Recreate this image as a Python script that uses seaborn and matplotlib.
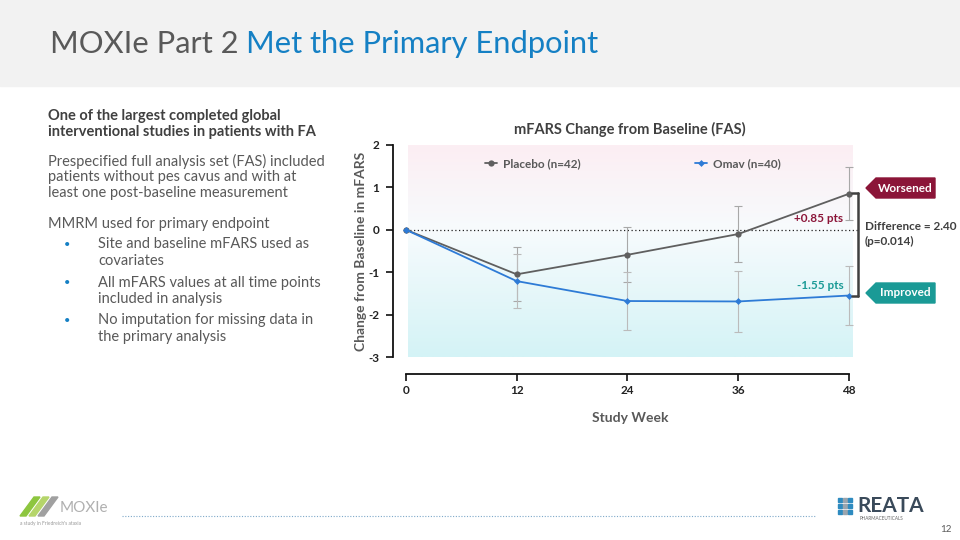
import numpy as np
import pandas as pd
import seaborn as sns
import matplotlib.pyplot as plt
from matplotlib.patches import Rectangle, Polygon
from matplotlib.lines import Line2D

# data
weeks = [0, 12, 24, 36, 48]
placebo = [0.0, -1.05, -0.59, -0.10, 0.85]
omav = [0.0, -1.21, -1.68, -1.69, -1.55]
placebo_se = [0.0, 0.64, 0.65, 0.65, 0.63]
omav_se = [0.0, 0.63, 0.69, 0.71, 0.69]
groups = ["Placebo (n=42)", "Omav (n=40)"]

df = pd.DataFrame({
    "week": weeks * 2,
    "change": placebo + omav,
    "group": [groups[0]] * 5 + [groups[1]] * 5,
})

sns.set_theme(style="white")
plt.rcParams["font.family"] = ["Lato", "DejaVu Sans"]

W, H = 960, 540
fig = plt.figure(figsize=(9.6, 5.4), dpi=100)


def fx(x):
    return x / W


def fy(y):
    return 1 - y / H


gray_txt = "#595959"
dark_txt = "#404040"
blue = "#2E7BD6"
pl_gray = "#5F5F5F"
maroon = "#8B1538"
teal = "#1A9A96"

# header band
fig.patches.append(Rectangle((0, fy(86)), 1, 86 / H, transform=fig.transFigure,
                             color="#F2F2F2", zorder=0))
t1 = fig.text(fx(50), fy(44), "MOXIe Part 2 ", fontsize=22.2, color=gray_txt, va="center")
r = fig.canvas.get_renderer()
x_end = t1.get_window_extent(renderer=r).x1
fig.text(x_end / W, fy(44), "Met the Primary Endpoint", fontsize=22.2,
         color="#1580C4", va="center")

# left text column
fs = 10.5
fig.text(fx(48), fy(116), "One of the largest completed global", fontsize=fs,
         weight="bold", color=dark_txt, va="center")
fig.text(fx(48), fy(132), "interventional studies in patients with FA", fontsize=fs,
         weight="bold", color=dark_txt, va="center")
lines = [
    (48, 161, "Prespecified full analysis set (FAS) included"),
    (48, 177, "patients without pes cavus and with at"),
    (48, 193, "least one post-baseline measurement"),
    (48, 224, "MMRM used for primary endpoint"),
    (98, 244, "Site and baseline mFARS used as"),
    (98, 261, "covariates"),
    (98, 283, "All mFARS values at all time points"),
    (98, 299, "included in analysis"),
    (98, 320, "No imputation for missing data in"),
    (98, 337, "the primary analysis"),
]
for x, y, t in lines:
    fig.text(fx(x), fy(y), t, fontsize=fs, color=gray_txt, va="center")
for y in [244, 283, 320]:
    fig.text(fx(64), fy(y), "\u2022", fontsize=8, color="#1580C4", va="center")

# chart
ax = fig.add_axes([fx(393), fy(357), fx(867.5) - fx(393), (357 - 145) / H])
for s in ["top", "right"]:
    ax.spines[s].set_visible(False)
ax.spines["bottom"].set_position(("outward", 12))
ax.spines["bottom"].set_bounds(0, 48)

# background gradient: pink above zero, cyan below
top = np.array([252, 238, 243]) / 255
mid = np.array([247, 251, 253]) / 255
bot = np.array([212, 243, 246]) / 255
yy = np.linspace(2, -3, 200)
rows = []
for v in yy:
    if v >= 0:
        t = v / 2
        rows.append(mid * (1 - t) + top * t)
    else:
        t = -v / 3
        rows.append(mid * (1 - t) + bot * t)
grad = np.array(rows)[:, None, :]
ax.imshow(grad, extent=(0.2, 48.4, -3, 2), aspect="auto", zorder=0)

ax.hlines(0, 0, 49, colors="#222222", linestyles=(0, (1, 2)), lw=0.9, zorder=1)

ax.errorbar(weeks[1:], placebo[1:], yerr=placebo_se[1:], fmt="none",
            ecolor="#A8A8A8", elinewidth=0.8, capsize=3, capthick=0.8, zorder=2)
ax.errorbar(weeks[1:], omav[1:], yerr=omav_se[1:], fmt="none",
            ecolor="#BBBBBB", elinewidth=0.8, capsize=3, capthick=0.8, zorder=2)

sns.lineplot(data=df, x="week", y="change", hue="group", style="group",
             palette=[pl_gray, blue], markers=["o", "D"], dashes=False,
             markersize=4.5, markeredgewidth=0, linewidth=1.3, ax=ax, zorder=3)
for ln in ax.get_lines():
    if ln.get_marker() == "D":
        ln.set_markersize(3.5)

ax.set_xlim(-1.4, 50)
ax.set_ylim(-3, 2)

leg = ax.legend(ncol=2, loc="upper center", bbox_to_anchor=(0.505, 0.99),
                frameon=False, columnspacing=9.7, handlelength=1.0,
                handletextpad=0.5, prop={"weight": "bold", "size": 8.5})
for t in leg.get_texts():
    t.set_color(gray_txt)
for h in leg.legend_handles:
    if h.get_marker() == "D":
        h.set_markersize(3.5)

ax.set_xticks(weeks)
ax.set_yticks([-3, -2, -1, 0, 1, 2])
ax.set_xticklabels([str(w) for w in weeks], fontsize=8.5, weight="bold", color="#222222")
ax.set_yticklabels(["-3", "-2", "-1", "0", "1", "2"], fontsize=8.5, weight="bold",
                   color="#222222")
ax.tick_params(axis="both", direction="out", length=5, width=1.2, color="#111111",
               bottom=True, left=True, pad=5)
ax.tick_params(axis="x", pad=3)
ax.spines["left"].set_color("#111111")
ax.spines["left"].set_linewidth(1.3)
ax.spines["bottom"].set_color("#111111")
ax.spines["bottom"].set_linewidth(1.3)
ax.set_xlabel("Study Week", fontsize=10, weight="bold", color=gray_txt, labelpad=12)
ax.set_ylabel("Change from Baseline in mFARS", fontsize=10, weight="bold",
              color=gray_txt, labelpad=1)
ax.set_title("mFARS Change from Baseline (FAS)", fontsize=10.5, weight="bold",
             color=dark_txt, pad=8)

ax.text(47.4, 0.27, "+0.85 pts", fontsize=8.5, weight="bold", color=maroon,
        ha="right", va="center")
ax.text(47.4, -1.32, "-1.55 pts", fontsize=8.5, weight="bold", color=teal,
        ha="right", va="center")

# difference bracket
for seg in [((852, 858), (193, 193)), ((858, 858), (193, 296)), ((852, 858), (296, 296))]:
    fig.lines.append(Line2D([fx(v) for v in seg[0]], [fy(v) for v in seg[1]],
                            transform=fig.transFigure, color="#404040", lw=1.8))
fig.text(fx(865), fy(226), "Difference = 2.40", fontsize=8.5, weight="bold",
         color=dark_txt, va="center")
fig.text(fx(865), fy(241), "(p=0.014)", fontsize=8.5, weight="bold",
         color=dark_txt, va="center")

for yc, label, col in [(188, "Worsened", maroon), (293, "Improved", teal)]:
    pts = [(866, yc), (876, yc - 10), (935, yc - 10), (935, yc + 10), (876, yc + 10)]
    fig.patches.append(Polygon([(fx(a), fy(b)) for a, b in pts], closed=True,
                               transform=fig.transFigure, color=col, zorder=5))
    fig.text(fx(905), fy(yc), label, fontsize=8.5, weight="bold", color="white",
             ha="center", va="center", zorder=6)

# footer
fig.lines.append(Line2D([fx(122), fx(815)], [fy(516), fy(516)], transform=fig.transFigure,
                        color="#7FA9C9", lw=0.8, linestyle=(0, (1, 1.5))))
for i, c in enumerate(["#8DC63F", "#B5D56A", "#A0A0A0"]):
    x0 = 20 + i * 9
    pts = [(x0, 516), (x0 + 6, 516), (x0 + 20, 497), (x0 + 14, 497)]
    fig.patches.append(Polygon([(fx(a), fy(b)) for a, b in pts], closed=True,
                               transform=fig.transFigure, color=c))
fig.text(fx(60), fy(508), "MOXIe", fontsize=11, color="#B0B0B0", va="center")
fig.text(fx(20), fy(524), "a study in Friedreich's ataxia", fontsize=3.5,
         color="#999999", va="center")
for rr in range(3):
    for c in range(3):
        col = "#2E8BC0" if c != 1 else "#9AA5AE"
        fig.patches.append(Rectangle((fx(838 + c * 5), fy(502 + rr * 6)), 3.5 / W, 4 / H,
                                     transform=fig.transFigure, color=col))
fig.text(fx(857), fy(506), "REATA", fontsize=15, weight="bold", color="#3A4A5A",
         va="center")
fig.text(fx(860), fy(519), "PHARMACEUTICALS", fontsize=3.3, color="#666666",
         va="center")
fig.text(fx(940), fy(530), "12", fontsize=7, color=gray_txt, va="center")

fig.savefig("out.png", dpi=100)
